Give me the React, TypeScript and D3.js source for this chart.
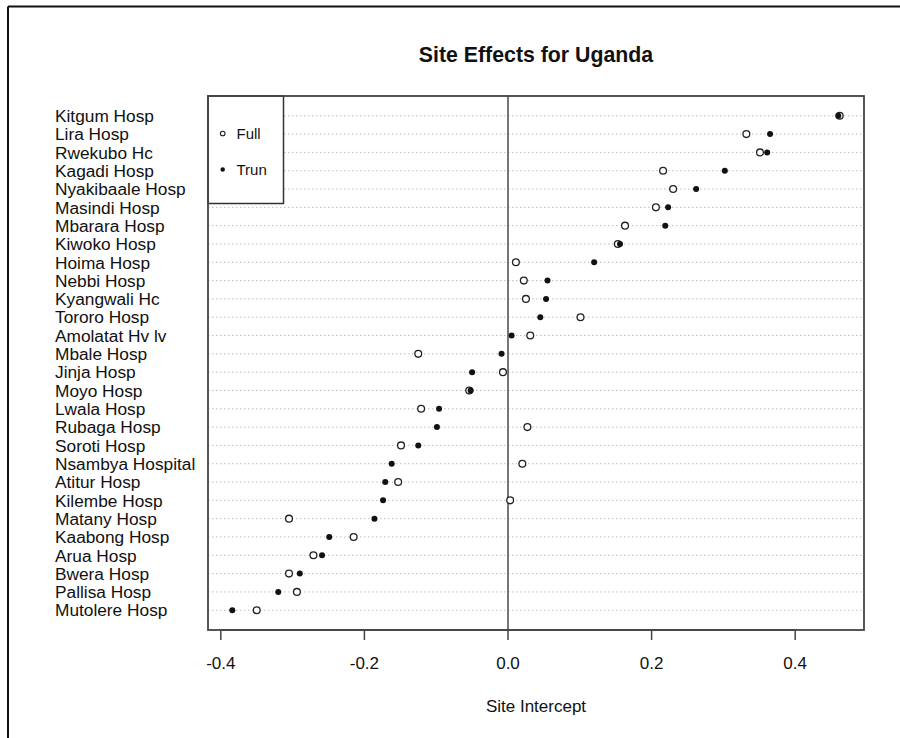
import React from "react";
import * as d3 from "d3";

const sites = [
  "Kitgum Hosp", "Lira Hosp", "Rwekubo Hc", "Kagadi Hosp", "Nyakibaale Hosp",
  "Masindi Hosp", "Mbarara Hosp", "Kiwoko Hosp", "Hoima Hosp", "Nebbi Hosp",
  "Kyangwali Hc", "Tororo Hosp", "Amolatat Hv lv", "Mbale Hosp", "Jinja Hosp",
  "Moyo Hosp", "Lwala Hosp", "Rubaga Hosp", "Soroti Hosp", "Nsambya Hospital",
  "Atitur Hosp", "Kilembe Hosp", "Matany Hosp", "Kaabong Hosp", "Arua Hosp",
  "Bwera Hosp", "Pallisa Hosp", "Mutolere Hosp",
];

const fullValues = [
  0.462, 0.332, 0.351, 0.216, 0.230, 0.206, 0.163, 0.153, 0.011, 0.022,
  0.025, 0.101, 0.031, -0.125, -0.007, -0.054, -0.121, 0.027, -0.149, 0.020,
  -0.153, 0.003, -0.305, -0.215, -0.271, -0.305, -0.294, -0.350,
];

const trunValues = [
  0.460, 0.365, 0.361, 0.302, 0.262, 0.223, 0.219, 0.156, 0.120, 0.055,
  0.053, 0.045, 0.005, -0.009, -0.050, -0.052, -0.096, -0.099, -0.125, -0.162,
  -0.171, -0.174, -0.186, -0.249, -0.259, -0.290, -0.320, -0.384,
];

const xTicks = [-0.4, -0.2, 0.0, 0.2, 0.4];
const legendLabels = ["Full", "Trun"];

const W = 900;
const H = 738;
const plotL = 208;
const plotR = 864;
const plotT = 96;
const plotB = 630;
const FONT = "'Liberation Sans', Arial, sans-serif";

export default function App() {
  const allVals = [...fullValues, ...trunValues];
  const xmin = d3.min(allVals) as number;
  const xmax = d3.max(allVals) as number;
  const xpad = (xmax - xmin) * 0.04;
  const x = d3.scaleLinear().domain([xmin - xpad, xmax + xpad]).range([plotL, plotR]);

  const n = sites.length;
  const ypad = (n - 1) * 0.04;
  const y = d3.scaleLinear().domain([-ypad, n - 1 + ypad]).range([plotT, plotB]);

  const zeroX = x(0);
  const fmt = (t: number) => d3.format(".1f")(t).replace("\u2212", "-");

  return (
    <div style={{ position: "fixed", left: 0, top: 0 }}>
      <svg width={W} height={H} style={{ display: "block", background: "#fff" }}>
        <rect x={0} y={0} width={W} height={H} fill="#fff" />
        <line x1={8} y1={6.5} x2={W} y2={6.5} stroke="#111" strokeWidth={2} />
        <line x1={8} y1={6.5} x2={8} y2={H} stroke="#111" strokeWidth={2} />

        <text x={(plotL + plotR) / 2} y={62} textAnchor="middle" fontFamily={FONT}
          fontWeight="bold" fontSize={21.3} fill="#111">Site Effects for Uganda</text>

        {sites.map((s, i) => (
          <line key={"g" + s} x1={plotL} x2={plotR} y1={y(i)} y2={y(i)}
            stroke="#bdbdbd" strokeWidth={1} strokeDasharray="1.5,2.5" />
        ))}

        <line x1={zeroX} x2={zeroX} y1={plotT} y2={plotB} stroke="#555" strokeWidth={1.6} />

        {sites.map((s, i) => (
          <text key={"l" + s} x={55} y={y(i)} dy="0.36em" fontFamily={FONT} fontSize={17.3}
            fill="#111">{s}</text>
        ))}

        {fullValues.map((v, i) => (
          <circle key={"f" + i} cx={x(v)} cy={y(i)} r={3.4} fill="#fff" stroke="#222" strokeWidth={1.3} />
        ))}
        {trunValues.map((v, i) => (
          <circle key={"t" + i} cx={x(v)} cy={y(i)} r={3} fill="#111" />
        ))}

        <rect x={plotL} y={plotT} width={283.5 - plotL} height={203.5 - plotT} fill="#fff"
          stroke="#333" strokeWidth={1.5} />
        {legendLabels.map((lab, i) => {
          const ly = 133.5 + i * 36;
          return (
            <g key={lab}>
              {i === 0 ? (
                <circle cx={222.7} cy={ly} r={2.3} fill="#fff" stroke="#222" strokeWidth={1.1} />
              ) : (
                <circle cx={222.7} cy={ly} r={2.2} fill="#111" />
              )}
              <text x={236.5} y={ly} dy="0.36em" fontFamily={FONT} fontSize={15} fill="#111">{lab}</text>
            </g>
          );
        })}

        <rect x={plotL} y={plotT} width={plotR - plotL} height={plotB - plotT} fill="none"
          stroke="#444" strokeWidth={1.8} />

        <line x1={x(xTicks[0])} x2={x(xTicks[xTicks.length - 1])} y1={plotB} y2={plotB}
          stroke="#444" strokeWidth={1.5} />
        {xTicks.map((t) => (
          <g key={"x" + t}>
            <line x1={x(t)} x2={x(t)} y1={plotB} y2={plotB + 10} stroke="#444" strokeWidth={1.5} />
            <text x={x(t)} y={669} textAnchor="middle" fontFamily={FONT} fontSize={17} fill="#111">
              {fmt(t)}
            </text>
          </g>
        ))}
        <text x={(plotL + plotR) / 2} y={712} textAnchor="middle" fontFamily={FONT} fontSize={17}
          fill="#111">Site Intercept</text>
      </svg>
    </div>
  );
}
